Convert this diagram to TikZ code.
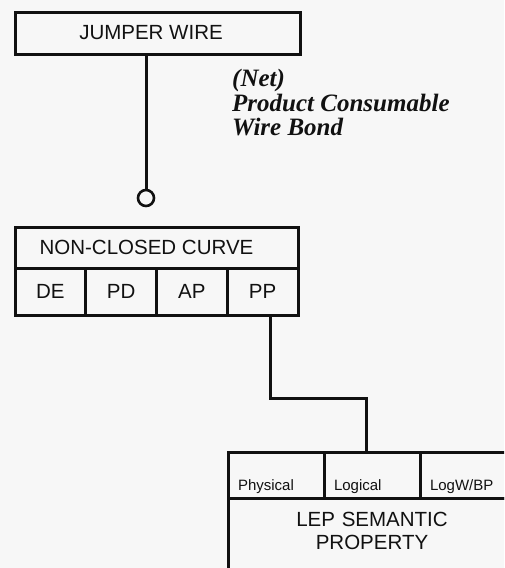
\documentclass[tikz,border=0pt]{standalone}
\usepackage{fontspec}
\setmainfont{Liberation Serif}
\setsansfont{Liberation Sans}
\usetikzlibrary{positioning}
\definecolor{paper}{HTML}{F7F7F7}
\definecolor{ink}{HTML}{111111}

\begin{document}
\begin{tikzpicture}[x=1pt, y=-1pt,
    box/.style={draw=ink, line width=3pt, inner sep=0pt, outer sep=0pt, text=ink,
      font=\sffamily\fontsize{20.5}{23}\selectfont},
    cell/.style={box, minimum width=70.75pt, minimum height=47pt},
    attr/.style={box, font=\sffamily\fontsize{15}{17}\selectfont, text width=76pt,
      align=left, inner xsep=10pt, inner ysep=4pt, text height=34pt, text depth=4pt},
    wire/.style={draw=ink, line width=3pt}]
  \fill[paper] (0,0) rectangle (504,568);
  \useasboundingbox (0,0) rectangle (504,568);
  \clip (0,0) rectangle (504,568);
  % Jumper wire
  \node[box, minimum width=285pt, minimum height=42pt] (jumper) at (157.5,33) {JUMPER WIRE\hspace*{13pt}};
  \node[text=ink, font=\bfseries\itshape\fontsize{25}{24.5}\selectfont, align=left, inner sep=0pt,
    anchor=north west] (note) at (232,69) {(Net)\\Product Consumable\\Wire Bond};
  \node[circle, draw=ink, line width=2.6pt, minimum size=16pt, inner sep=0pt] (ring) at (146,198) {};
  \draw[wire] (ring.north |- jumper.south) -- (ring);
  % Non-closed curve
  \node[box, minimum width=283pt, minimum height=41pt] (curve) at (156.5,247.5) {NON-CLOSED CURVE\hspace*{20pt}};
  \node[cell, anchor=north west] (de) at (curve.south west) {DE};
  \node[cell, right=0pt of de] (pd) {PD};
  \node[cell, right=0pt of pd] (ap) {AP};
  \node[cell, right=0pt of ap] (pp) {PP};
  % LEP semantic property
  \node[attr, anchor=north west] (physical) at (228,452) {Physical};
  \node[attr, right=0pt of physical] (logical) {Logical};
  \node[attr, right=0pt of logical] (logwbp) {LogW/BP};
  \node[box, anchor=north west, minimum width=288pt, text width=268pt, align=center,
    inner xsep=10pt, inner ysep=14pt, text depth=70pt] (lep) at (physical.south west) {LEP SEMANTIC\\PROPERTY};
  \draw[wire] ([xshift=7.4pt]pp.south) -- ++(0,83) -| ([xshift=-6pt]logical.north);
\end{tikzpicture}
\end{document}
